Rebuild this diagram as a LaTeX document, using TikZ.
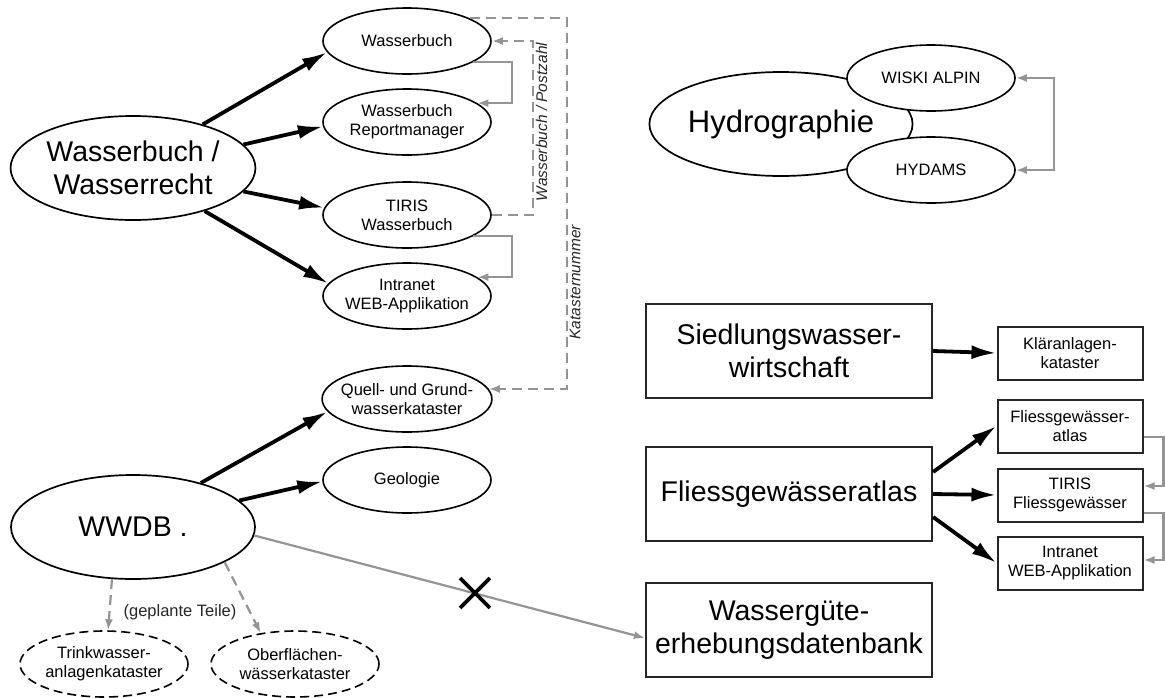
\documentclass[tikz,border=0pt]{standalone}
\usepackage{fontspec}
\setmainfont{Liberation Sans}
\usetikzlibrary{shapes.geometric,shapes.misc,arrows.meta,calc}
\tikzset{
  bigfont/.style={font=\fontsize{28.5}{33}\selectfont},
  smallfont/.style={font=\fontsize{16.5}{19}\selectfont},
  bigell/.style={ellipse,draw,line width=1.7pt,fill=white,minimum width=244pt,minimum height=104pt,inner sep=0pt,align=center,bigfont},
  smallell/.style={ellipse,draw,line width=1.6pt,fill=white,minimum width=168pt,minimum height=66pt,inner sep=-6pt,align=center,smallfont},
  planell/.style={smallell,dash pattern=on 9pt off 5pt},
  bigbox/.style={rectangle,draw=black!85,line width=2.2pt,minimum width=286pt,minimum height=94pt,inner sep=0pt,align=center,bigfont},
  smallbox/.style={rectangle,draw=black!85,line width=2pt,minimum width=145pt,minimum height=53pt,inner sep=0pt,align=center,smallfont},
  thickarrow/.style={line width=3.8pt,-{Latex[length=25pt,width=14pt]}},
  gconn/.style={draw=black!42,line width=2.2pt,-{Latex[length=11pt,width=8pt]}},
  gboth/.style={gconn,{Latex[length=11pt,width=8pt]}-{Latex[length=11pt,width=8pt]}},
  gdash/.style={gconn,dash pattern=on 10pt off 6pt},
  vlabel/.style={rotate=90,font=\fontsize{15.5}{18}\selectfont\itshape,text=black!85,inner sep=3pt},
}
\begin{document}
\begin{tikzpicture}[x=1pt,y=1pt]
\useasboundingbox (0,0) rectangle (1165,-697);
% Wasserbuch group
\node[bigell] (wr) at (133,-168) {Wasserbuch /\\Wasserrecht};
\node[smallell] (wb) at (407,-41) {Wasserbuch};
\node[smallell] (rp) at (407,-122) {Wasserbuch\\Reportmanager};
\node[smallell] (ti) at (407,-215) {TIRIS\\Wasserbuch};
\node[smallell] (in) at (407,-296) {Intranet\\WEB-Applikation};
\node[smallell] (qu) at (407,-399) {Quell- und Grund-\\wasserkataster};
\node[smallell] (ge) at (407,-480) {Geologie};
\node[bigell] (wd) at (133,-527) {WWDB .};
\node[planell] (tr) at (104,-664) {Trinkwasser-\\anlagenkataster};
\node[planell] (ob) at (295,-664) {Oberflächen-\\wässerkataster};
\node[smallfont,text=black!85] (gt) at (180,-612) {(geplante Teile)};
% Hydrographie group
\node[bigell,font=\fontsize{31}{36}\selectfont] (hy) at (781,-124) {Hydrographie};
\node[smallell] (wi) at (931,-78) {WISKI ALPIN};
\node[smallell] (hd) at (931,-170) {HYDAMS};
% boxes
\node[bigbox] (si) at (789,-351) {Siedlungswasser-\\wirtschaft};
\node[bigbox] (fb) at (789,-494) {Fliessgewässeratlas};
\node[bigbox] (wg) at (789,-630) {Wassergüte-\\erhebungsdatenbank};
\node[smallbox] (kl) at (1070,-353) {Kläranlagen-\\kataster};
\node[smallbox] (fa) at (1070,-426) {Fliessgewässer-\\atlas};
\node[smallbox] (tf) at (1070,-495) {TIRIS\\Fliessgewässer};
\node[smallbox] (iw) at (1070,-563) {Intranet\\WEB-Applikation};
% thick arrows
\draw[thickarrow] (wr.32) -- (wb.188);
\draw[thickarrow] (wr.12) -- (rp.183);
\draw[thickarrow] (wr.348) -- (ti.175);
\draw[thickarrow] (wr.329) -- (in.171);
\draw[thickarrow] (wd.33) -- (qu.189);
\draw[thickarrow] (wd.14) -- (ge.181);
\draw[thickarrow] (si.east) -- (kl.west);
\draw[thickarrow] ([yshift=22pt]fb.east) -- (fa.west);
\draw[thickarrow] (fb.east) -- (tf.west);
\draw[thickarrow] ([yshift=-23pt]fb.east) -- (iw.west);
% gray connectors
\draw[gconn] (wb.342) -- ++(39,0) |- (rp.15);
\draw[gconn] (ti.342) -- ++(39,0) |- (in.15);
\draw[gdash] (ti.east) -- ++(41,0) coordinate (pz) |- (wb.east);
\node[vlabel,anchor=north] (pzl) at ($(pz)+(0,93)$) {Wasserbuch / Postzahl};
\draw[gdash] (wb.20) -- ++(97,0) coordinate (kz) |- (qu.7);
\node[vlabel,anchor=north] (kzl) at ($(kz)+(0,-264)$) {Katasternummer};
\draw[gboth] (wi.east) -- ++(38,0) |- (hd.east);
\draw[gconn] ([yshift=-11pt]fa.east) -- ++(20,0) |- ([yshift=9pt]tf.east);
\draw[gconn] ([yshift=-18pt]tf.east) -- ++(20,0) |- ([yshift=3pt]iw.east);
\draw[gconn] (wd.356) -- ([yshift=-8pt]wg.west);
\node[cross out,draw,line width=3.8pt,minimum size=26pt,inner sep=0pt] (xx) at (475,-593) {};
\draw[gdash] (wd.248) -- (tr.83);
\draw[gdash] (wd.339) -- (ob.138);
\end{tikzpicture}
\end{document}
